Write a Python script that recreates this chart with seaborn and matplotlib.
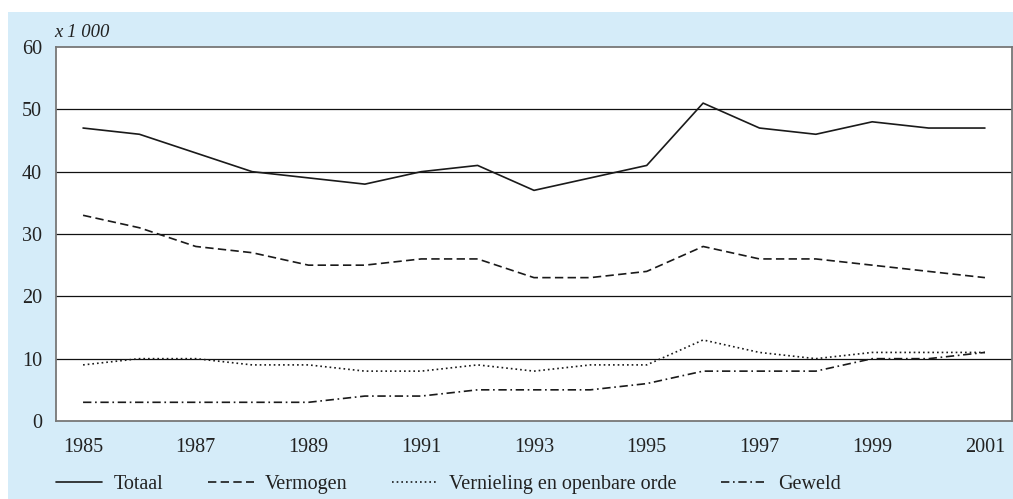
import matplotlib
matplotlib.use("Agg")
import matplotlib.pyplot as plt
from matplotlib.lines import Line2D
import seaborn as sns
import pandas as pd

sns.set_theme(style="white")
plt.rcParams["font.family"] = ["Liberation Serif", "DejaVu Serif"]

years = list(range(1985, 2002))
totaal = [47, 46, 43, 40, 39, 38, 40, 41, 37, 39, 41, 51, 47, 46, 48, 47, 47]
vermogen = [33, 31, 28, 27, 25, 25, 26, 26, 23, 23, 24, 28, 26, 26, 25, 24, 23]
vernieling = [9, 10, 10, 9, 9, 8, 8, 9, 8, 9, 9, 13, 11, 10, 11, 11, 11]
geweld = [3, 3, 3, 3, 3, 4, 4, 5, 5, 5, 6, 8, 8, 8, 10, 10, 11]

series_names = ["Totaal", "Vermogen", "Vernieling en openbare orde", "Geweld"]
series_values = [totaal, vermogen, vernieling, geweld]
dash_styles = ["-", (0, (5, 2.6)), (0, (1, 1.8)), (0, (5, 2.2, 1, 2.2))]

y_ticks = [0, 10, 20, 30, 40, 50, 60]
x_ticks = [1985, 1987, 1989, 1991, 1993, 1995, 1997, 1999, 2001]

line_color = "#1a1a1a"
text_color = "#222222"
panel_blue = "#d5ecf9"
fs = 14.5

fig = plt.figure(figsize=(10.13, 4.99), dpi=100)
fig.patch.set_facecolor("white")

# light blue panel behind the chart
bg = fig.add_axes([8 / 1013, 0, 1 - 8 / 1013, 1 - 12 / 499], zorder=-1)
bg.set_facecolor(panel_blue)
bg.set_xticks([])
bg.set_yticks([])
for sp in bg.spines.values():
    sp.set_visible(False)

ax = fig.add_axes([56 / 1013, 78 / 499, 956 / 1013, 374 / 499], zorder=1)
ax.set_facecolor("white")

for yv in y_ticks[1:-1]:
    ax.axhline(yv, color="#111111", lw=0.9, zorder=1)

for name, vals, ls in zip(series_names, series_values, dash_styles):
    df = pd.DataFrame({"jaar": years, "aantal": vals})
    sns.lineplot(data=df, x="jaar", y="aantal", ax=ax, color=line_color,
                 linewidth=1.2, linestyle=ls, zorder=3)

ax.set_xlim(1984.52, 2001.48)
ax.set_ylim(0, 60)
ax.set_xticks(x_ticks)
ax.set_xticklabels([str(x) for x in x_ticks])
ax.set_yticks(y_ticks)
ax.set_xlabel("")
ax.set_ylabel("")
ax.tick_params(axis="both", length=0, labelsize=fs, colors=text_color)
ax.tick_params(axis="x", pad=12)
ax.tick_params(axis="y", pad=10)
for sp in ax.spines.values():
    sp.set_color("#777777")
    sp.set_linewidth(1.3)

ax.text(-0.002, 1.016, "x 1 000", transform=ax.transAxes, fontsize=13.5,
        style="italic", color=text_color, ha="left", va="bottom")

handles = [Line2D([0], [0], color=line_color, lw=1.2, linestyle=ls)
           for ls in dash_styles]
leg = fig.legend(handles, series_names, loc="center left",
                 bbox_to_anchor=(38 / 1013, 15 / 499), ncol=4, frameon=False,
                 fontsize=fs, handlelength=2.3, handletextpad=0.55,
                 columnspacing=2.2, labelcolor=text_color)

fig.savefig("out.png", dpi=100, facecolor=fig.get_facecolor())
